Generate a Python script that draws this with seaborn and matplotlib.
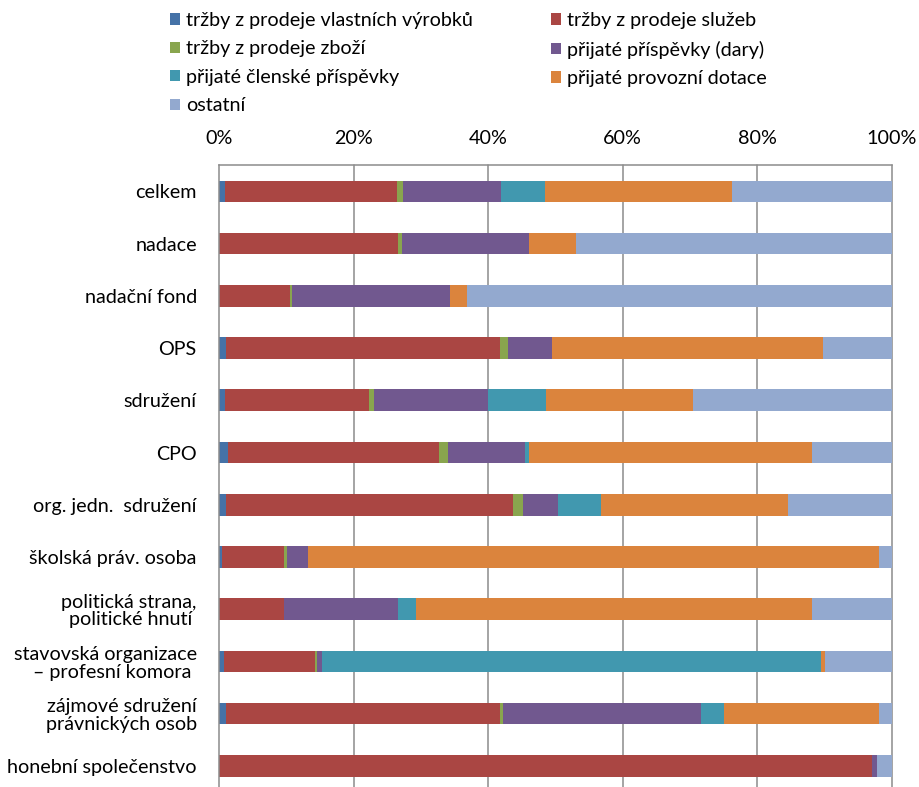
import numpy as np
import pandas as pd
import matplotlib
matplotlib.use("Agg")
import matplotlib.pyplot as plt
from matplotlib.patches import Patch
import seaborn as sns

# Revenue structure by legal form (share of total revenue, %)
categories = [
    "celkem",
    "nadace",
    "nadační fond",
    "OPS",
    "sdružení",
    "CPO",
    "org. jedn.  sdružení",
    "školská práv. osoba",
    "politická strana,\npolitické hnutí ",
    "stavovská organizace\n– profesní komora ",
    "zájmové sdružení\nprávnických osob",
    "honební společenstvo",
]

series_names = [
    "tržby z prodeje vlastních výrobků",
    "tržby z prodeje služeb",
    "tržby z prodeje zboží",
    "přijaté příspěvky (dary)",
    "přijaté členské příspěvky",
    "přijaté provozní dotace",
    "ostatní",
]

vlastni_vyrobky = [0.9, 0.0, 0.0, 1.1, 0.9, 1.3, 1.0, 0.5, 0.0, 0.7, 1.0, 0.0]
sluzby = [25.5, 26.6, 10.5, 40.6, 21.4, 31.4, 42.7, 9.2, 9.6, 13.6, 40.8, 97.0]
zbozi = [0.9, 0.6, 0.3, 1.2, 0.8, 1.4, 1.4, 0.4, 0.0, 0.3, 0.4, 0.0]
dary = [14.6, 18.9, 23.5, 6.6, 16.8, 11.4, 5.3, 3.1, 17.0, 0.7, 29.4, 0.8]
clenske = [6.5, 0.0, 0.0, 0.0, 8.7, 0.5, 6.3, 0.0, 2.6, 74.1, 3.5, 0.0]
dotace = [27.8, 6.9, 2.5, 40.2, 21.9, 42.1, 27.8, 84.8, 58.9, 0.6, 22.9, 0.0]
ostatni = [23.8, 47.0, 63.2, 10.3, 29.5, 11.9, 15.5, 2.0, 11.9, 10.0, 2.0, 2.2]

colors = ["#4572A7", "#AA4643", "#89A54E", "#71588F", "#4198AF", "#DB843D", "#93A9CF"]

x_ticks = [0, 20, 40, 60, 80, 100]
x_tick_labels = ["0%", "20%", "40%", "60%", "80%", "100%"]

sns.set_theme(style="white")
plt.rcParams["font.family"] = ["Lato", "DejaVu Sans"]
plt.rcParams["text.color"] = "black"

values = np.array([vlastni_vyrobky, sluzby, zbozi, dary, clenske, dotace, ostatni])
df = pd.DataFrame({"kategorie": categories})
cum = np.cumsum(values, axis=0)
for i, name in enumerate(series_names):
    df[name] = cum[i]

fig = plt.figure(figsize=(9.2, 7.87), dpi=100)
ax = fig.add_axes([219 / 920, -5 / 787, 673 / 920, (792 - 165.3) / 787])

# stacked bars: draw cumulative totals from the outermost layer inwards
for i in range(len(series_names) - 1, -1, -1):
    sns.barplot(
        data=df, x=series_names[i], y="kategorie", orient="h",
        color=colors[i], saturation=1, width=0.415, errorbar=None,
        linewidth=0, ax=ax,
    )

fs = 14.2
grid_color = "#8c8c8c"
ax.set_xlim(0, 100)
ax.set_ylim(len(categories) - 0.5, -0.5)
ax.set_xlabel("")
ax.set_ylabel("")
ax.xaxis.tick_top()
ax.set_xticks(x_ticks)
ax.set_xticklabels(x_tick_labels)
ax.tick_params(axis="x", length=0, pad=13, labelsize=fs, colors="black")
ax.tick_params(axis="y", which="major", length=0, pad=16, labelsize=fs, colors="black")
ax.set_yticks(np.arange(-0.5, len(categories), 1.0), minor=True)
ax.tick_params(axis="y", which="minor", length=5.5, width=1, color=grid_color, direction="out")
for x in x_ticks[1:]:
    ax.axvline(x, color=grid_color, lw=1.1, zorder=0, clip_on=False)
ax.set_axisbelow(True)
for side in ["right", "bottom"]:
    ax.spines[side].set_visible(False)
for side in ["top", "left"]:
    ax.spines[side].set_color(grid_color)
    ax.spines[side].set_linewidth(1.1)
for lab in ax.get_yticklabels():
    lab.set_linespacing(1.05)

handles = [Patch(facecolor=c, edgecolor="none") for c in colors]
leg_kw = dict(frameon=False, fontsize=fs, handlelength=0.5, handleheight=0.5,
              handletextpad=0.3, labelspacing=0.58, borderaxespad=0, borderpad=0,
              loc="upper left")
fig.legend([handles[i] for i in (0, 2, 4, 6)], [series_names[i] for i in (0, 2, 4, 6)],
           bbox_to_anchor=(170 / 920, 1 - 12 / 787), **leg_kw)
fig.legend([handles[i] for i in (1, 3, 5)], [series_names[i] for i in (1, 3, 5)],
           bbox_to_anchor=(551 / 920, 1 - 12 / 787), **leg_kw)

fig.savefig("out.png", dpi=100)
